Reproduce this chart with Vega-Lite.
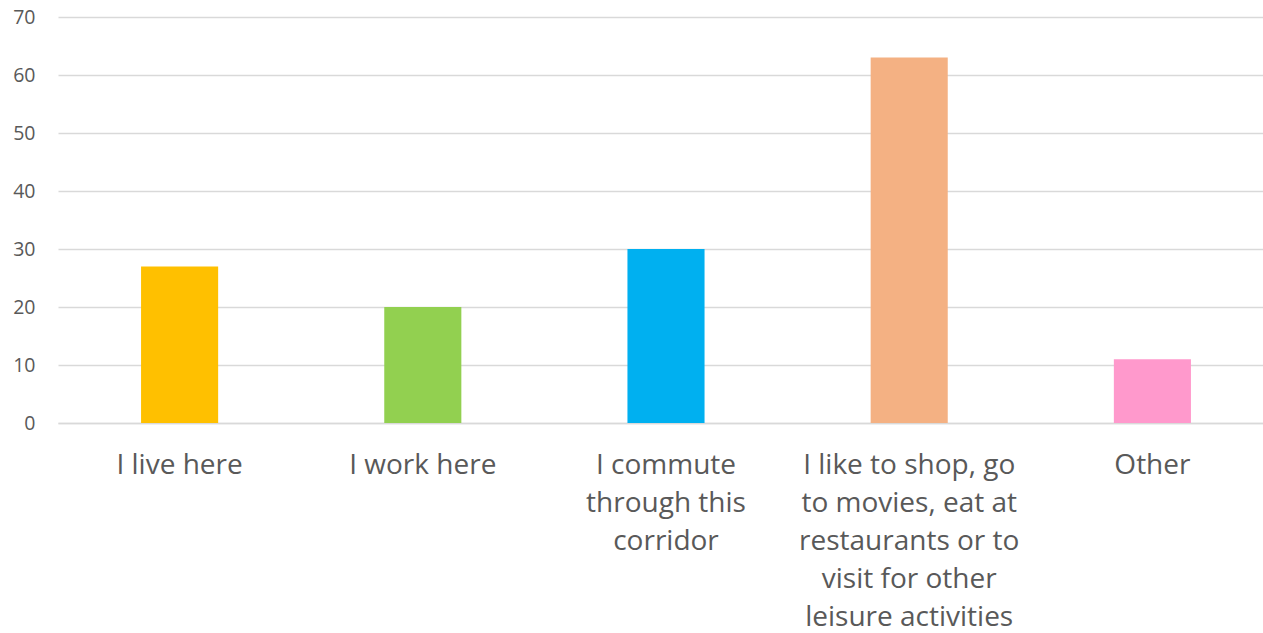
{
  "$schema": "https://vega.github.io/schema/vega-lite/v6.json",
  "width": 1216,
  "height": 406,
  "autosize": {"type": "none"},
  "padding": {"left": 58, "top": 17, "right": 0, "bottom": 210},
  "background": "white",
  "data": {
    "values": [
      {"category": "I live here", "value": 27, "color": "#FFC000"},
      {"category": "I work here", "value": 20, "color": "#92D050"},
      {"category": "I commute|through this|corridor", "value": 30, "color": "#00B0F0"},
      {"category": "I like to shop, go|to movies, eat at|restaurants or to|visit for other|leisure activities", "value": 63, "color": "#F4B183"},
      {"category": "Other", "value": 11, "color": "#FF99CC"}
    ]
  },
  "mark": {"type": "bar"},
  "encoding": {
    "x": {
      "field": "category",
      "type": "nominal",
      "sort": null,
      "scale": {"paddingInner": 0.683, "paddingOuter": 0.3415},
      "axis": {
        "title": null,
        "labelAngle": 0,
        "labelExpr": "split(datum.label, '|')",
        "labelFont": "Open Sans",
        "labelFontSize": 28,
        "labelColor": "#595959",
        "labelLineHeight": 38,
        "labelPadding": 28,
        "labelLimit": 400,
        "ticks": false,
        "domainColor": "#D9D9D9",
        "domainWidth": 1.5
      }
    },
    "y": {
      "field": "value",
      "type": "quantitative",
      "scale": {"domain": [0, 70], "nice": false},
      "axis": {
        "title": null,
        "values": [0, 10, 20, 30, 40, 50, 60, 70],
        "labelFont": "Open Sans",
        "labelFontSize": 19.5,
        "labelColor": "#595959",
        "labelPadding": 23,
        "ticks": false,
        "domain": false,
        "gridColor": "#D9D9D9",
        "gridWidth": 1.5
      }
    },
    "color": {"field": "color", "type": "nominal", "scale": null, "legend": null}
  },
  "config": {"view": {"stroke": null}}
}
